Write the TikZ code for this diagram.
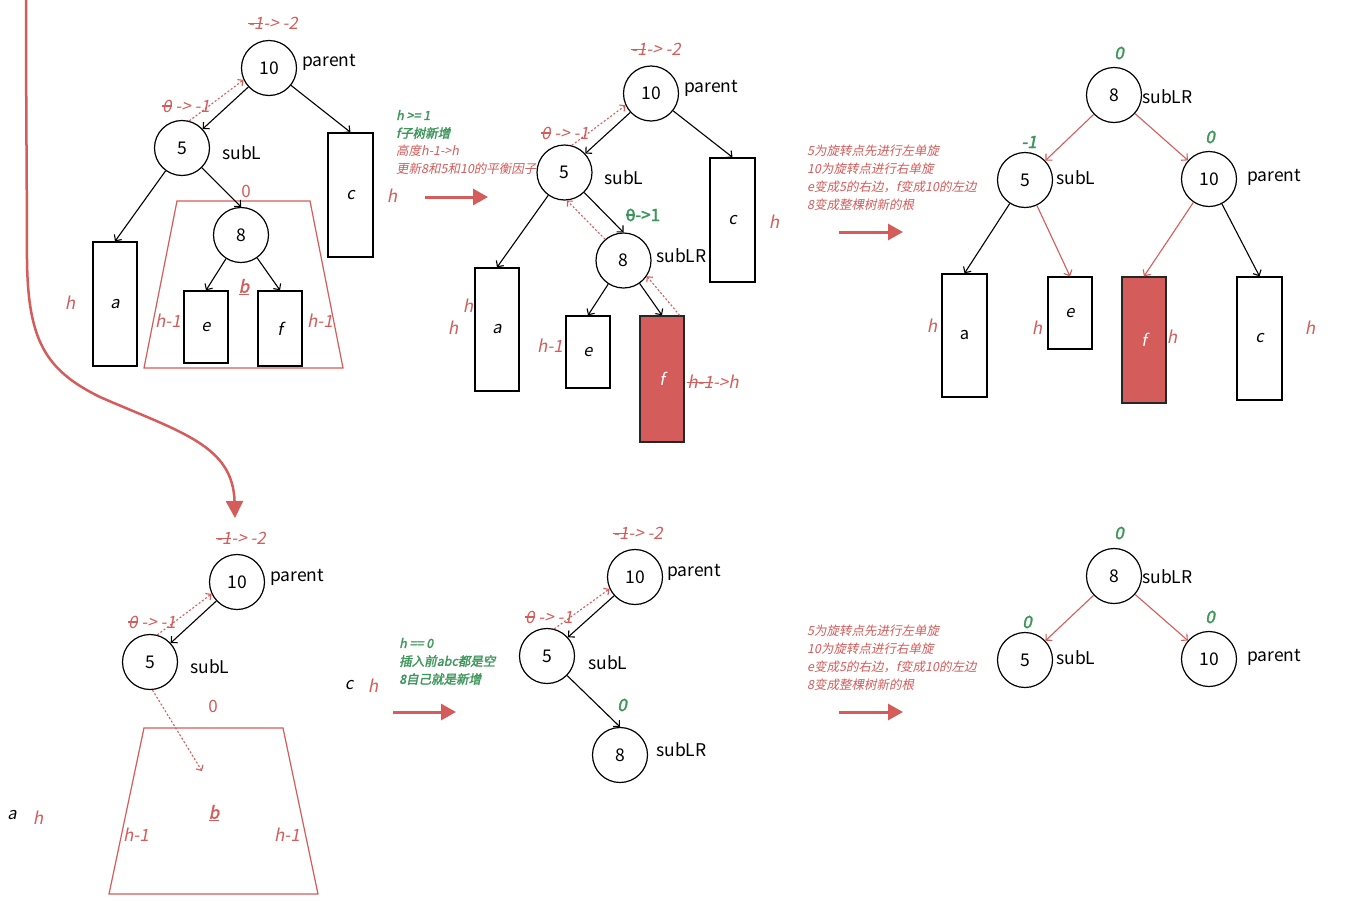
\documentclass[tikz,border=0pt]{standalone}
\usepackage{fontspec}
\usetikzlibrary{arrows.meta}
\newfontfamily\fN{Noto Sans CJK SC}
\newfontfamily\fI{Noto Sans CJK SC}[FakeSlant=0.2]
\newfontfamily\fBI{Noto Sans CJK SC}[FakeSlant=0.2,FakeBold=2]
\newfontfamily\fB{Noto Sans CJK SC}[FakeBold=2]
\definecolor{myred}{RGB}{212,92,90}
\definecolor{mygreen}{RGB}{60,150,90}
\newsavebox\stbox
\newcommand\stk[1]{\sbox\stbox{#1}\rlap{\rule[0.32em]{\wd\stbox}{0.07em}}\usebox\stbox}
\begin{document}
\begin{tikzpicture}[x=1pt,y=-1pt,
  circ/.style={circle,draw=black,line width=1.2pt,minimum size=55pt,inner sep=0pt,font=\fN\fontsize{17.5}{20}\selectfont},
  lbl/.style={font=\fN\fontsize{17.5}{20}\selectfont,inner sep=0pt,anchor=west},
  hl/.style={font=\fI\fontsize{17}{20}\selectfont,text=myred,inner sep=0pt},
  gl/.style={font=\fBI\fontsize{17}{20}\selectfont,text=mygreen,inner sep=0pt},
  sr/.style={font=\fI\fontsize{12.5}{14}\selectfont,text=myred,inner sep=0pt,anchor=west},
  sg/.style={font=\fBI\fontsize{12.5}{14}\selectfont,text=mygreen,inner sep=0pt,anchor=west},
  rbox/.style={draw=black,line width=1.4pt,inner sep=0pt,font=\fI\fontsize{16.5}{18}\selectfont},
  fbox/.style={rbox,fill=myred,draw=black!85,text=white},
  bl/.style={font=\fI\fontsize{16.5}{18}\selectfont,inner sep=0pt},
  arr/.style={-{Straight Barb[length=4.5pt,width=9pt]},line width=1.1pt,draw=black},
  rarr/.style={arr,draw=myred},
  darr/.style={-{Straight Barb[length=4pt,width=8pt]},draw=myred,line width=1.1pt,dash pattern=on 2pt off 2pt},
  bigarr/.style={-{Triangle[length=15pt,width=16pt]},line width=3pt,draw=myred},
  trap/.style={draw=myred,line width=1.2pt}
]
\useasboundingbox (0,0) rectangle (1346,900);
\fill[white] (0,0) rectangle (1346,900);

% ---------- panel 1 ----------
\node[circ] (A10) at (269,68) {10};
\node[lbl] (A10l) at (302,62) {parent};
\node[circ] (A5) at (182,148) {5};
\node[lbl] (A5l) at (222,153) {subL};
\node[circ] (A8) at (241,235) {8};
\node[rbox,minimum width=44pt,minimum height=124pt] (Aa) at (115,304) {a};
\node[rbox,minimum width=45pt,minimum height=124pt] (Ac) at (350.5,195) {c};
\node[rbox,minimum width=44pt,minimum height=72pt] (Ae) at (206,327) {e};
\node[rbox,minimum width=44pt,minimum height=75pt] (Af) at (280,328.5) {f};
\draw[trap] (177,201) -- (310,201) -- (343,368) -- (144,368) -- cycle;
\node[hl] (At1) at (273,23) {\stk{-1}-> -2};
\node[hl] (At2) at (186,106) {\stk{0} -> -1};
\node[hl,font=\fN\fontsize{17}{20}\selectfont] (At3) at (246,191) {0};
\node[hl,font=\fBI\fontsize{17}{20}\selectfont] (At4) at (244,287) {\underline{b}};
\node[hl] (At5) at (168,321) {h-1};
\node[hl] (At6) at (320,321) {h-1};
\node[hl] (At7) at (70,303) {h};
\node[hl] (At8) at (392,196) {h};
\draw[arr] (A10) -- (A5);
\draw[arr] (A10) -- (Ac.north);
\draw[arr] (A5) -- (Aa.north);
\draw[arr] (A5) -- (A8.north);
\draw[arr] (A8) -- (Ae.north);
\draw[arr] (A8) -- (Af.north);
\draw[darr] (A5.75) -- (A10.205);

% curve to bottom
\coordinate (cS) at (26,0);
\coordinate (cE) at (235,518);
\draw[line width=2.5pt,draw=myred,-{Triangle[length=17pt,width=17pt]}] (cS) .. controls (26,100) and (27,200) .. (27,260) .. controls (28,340) and (45,370) .. (100,397) .. controls (180,432) and (233,445) .. (cE);

% text block 1
\node[sg] (T1a) at (396,115) {h >= 1};
\node[sg] (T1b) at (396,133) {f子树新增};
\node[sr] (T1c) at (396,151) {高度h-1->h};
\node[sr] (T1d) at (396,169) {更新8和5和10的平衡因子};
\coordinate (R1s) at (425,197);
\coordinate (R1e) at (488,197);
\draw[bigarr] (R1s) -- (R1e);

% ---------- panel 2 ----------
\node[circ] (B10) at (651,93.5) {10};
\node[lbl] (B10l) at (684,88) {parent};
\node[circ] (B5) at (564.5,172.5) {5};
\node[lbl] (B5l) at (604,178) {subL};
\node[circ] (B8) at (623.5,260.5) {8};
\node[lbl] (B8l) at (656,256) {subLR};
\node[rbox,minimum width=45pt,minimum height=124pt] (Bc) at (732.5,220) {c};
\node[rbox,minimum width=44pt,minimum height=123pt] (Ba) at (497,329.5) {a};
\node[rbox,minimum width=44pt,minimum height=72pt] (Be) at (588,352) {e};
\node[fbox,minimum width=44pt,minimum height=126pt] (Bf) at (662,379) {f};
\node[hl] (Bt1) at (656,49) {\stk{-1}-> -2};
\node[hl] (Bt2) at (565,133) {\stk{0} -> -1};
\node[gl,font=\fB\fontsize{17}{20}\selectfont] (Bt3) at (643,215) {\stk{0}->1};
\node[hl] (Bt4) at (774,222) {h};
\node[hl] (Bt5) at (468,306) {h};
\node[hl] (Bt6) at (453,328) {h};
\node[hl] (Bt7) at (550,346) {h-1};
\node[hl] (Bt8) at (713,382) {\stk{h-1}->h};
\draw[arr] (B10) -- (B5);
\draw[arr] (B10) -- (Bc.north);
\draw[arr] (B5) -- (Ba.north);
\draw[arr] (B5) -- (B8.north);
\draw[arr] (B8) -- (Be.north);
\draw[arr] (B8) -- (Bf.north);
\draw[darr] (B5.75) -- (B10.205);
\draw[darr] (B8.131) -- (B5.275);
\draw[darr] ([xshift=-5pt]Bf.north east) -- (B8.326);

% text block 2
\node[sr] (T2a) at (807,151) {5为旋转点先进行左单旋};
\node[sr] (T2b) at (807,169) {10为旋转点进行右单旋};
\node[sr] (T2c) at (807,187) {e变成5的右边，f变成10的左边};
\node[sr] (T2d) at (807,205) {8变成整棵树新的根};
\coordinate (R2s) at (839,232);
\coordinate (R2e) at (903,232);
\draw[bigarr] (R2s) -- (R2e);

% ---------- panel 3 ----------
\node[circ] (C8) at (1114,95) {8};
\node[lbl] (C8l) at (1142,97) {subLR};
\node[circ] (C5) at (1025,180) {5};
\node[lbl] (C5l) at (1056,178) {subL};
\node[circ] (C10) at (1209,179) {10};
\node[lbl] (C10l) at (1247,177) {parent};
\node[gl] (Ct1) at (1119,53) {0};
\node[gl] (Ct2) at (1029,142) {-1};
\node[gl] (Ct3) at (1210,137) {0};
\node[rbox,minimum width=45pt,minimum height=123pt,font=\fN\fontsize{16.5}{18}\selectfont] (Ca) at (964.5,335.5) {a};
\node[rbox,minimum width=44pt,minimum height=72pt] (Ce) at (1070,313) {e};
\node[fbox,minimum width=44pt,minimum height=126pt] (Cf) at (1144,340) {f};
\node[rbox,minimum width=45pt,minimum height=123pt] (Cc) at (1259.5,338.5) {c};
\node[hl] (Ct4) at (932,326) {h};
\node[hl] (Ct5) at (1037,328) {h};
\node[hl] (Ct6) at (1172,337) {h};
\node[hl] (Ct7) at (1310,328) {h};
\draw[rarr] (C8) -- (C5);
\draw[rarr] (C8) -- (C10);
\draw[arr] (C5) -- (Ca.north);
\draw[rarr] (C5) -- (Ce.north);
\draw[rarr] (C10) -- (Cf.north);
\draw[arr] (C10) -- (Cc.north);

% ---------- bottom-left ----------
\node[circ] (D10) at (237,582) {10};
\node[lbl] (D10l) at (270,577) {parent};
\node[circ] (D5) at (150,662) {5};
\node[lbl] (D5l) at (190,667) {subL};
\node[hl] (Dt1) at (241,538) {\stk{-1}-> -2};
\node[hl] (Dt2) at (152,622) {\stk{0} -> -1};
\node[hl,font=\fN\fontsize{17}{20}\selectfont] (Dt3) at (213,706) {0};
\draw[trap] (144,728) -- (283,728) -- (318,894) -- (109,894) -- cycle;
\node[hl,font=\fBI\fontsize{17}{20}\selectfont] (Dt4) at (214,813) {\underline{b}};
\node[hl] (Dt5) at (136,835) {h-1};
\node[hl] (Dt6) at (287,835) {h-1};
\node[bl] (Dt7) at (12,815) {a};
\node[hl] (Dt8) at (38,818) {h};
\node[bl] (Dt9) at (349,685) {c};
\node[hl] (Dt10) at (373,686) {h};
\draw[arr] (D10) -- (D5);
\draw[darr] (D5.75) -- (D10.205);
\coordinate (Dend) at (202,771);
\draw[darr] (D5.275) -- (Dend);

% text block 3
\node[sg] (T3a) at (399,643) {h == 0};
\node[sg] (T3b) at (399,661) {插入前abc都是空};
\node[sg] (T3c) at (399,679) {8自己就是新增};
\coordinate (R3s) at (393,712);
\coordinate (R3e) at (456,712);
\draw[bigarr] (R3s) -- (R3e);

% ---------- bottom-middle ----------
\node[circ] (E10) at (635,577) {10};
\node[lbl] (E10l) at (667,572) {parent};
\node[circ] (E5) at (547,656) {5};
\node[lbl] (E5l) at (588,663) {subL};
\node[circ] (E8) at (620,755) {8};
\node[lbl] (E8l) at (656,750) {subLR};
\node[hl] (Et1) at (638,533) {\stk{-1}-> -2};
\node[hl] (Et2) at (549,617) {\stk{0} -> -1};
\node[gl] (Et3) at (622,705) {0};
\draw[arr] (E10) -- (E5);
\draw[arr] (E5) -- (E8.north);
\draw[darr] (E5.75) -- (E10.205);

% text block 4
\node[sr] (T4a) at (807,631) {5为旋转点先进行左单旋};
\node[sr] (T4b) at (807,649) {10为旋转点进行右单旋};
\node[sr] (T4c) at (807,667) {e变成5的右边，f变成10的左边};
\node[sr] (T4d) at (807,685) {8变成整棵树新的根};
\coordinate (R4s) at (839,712);
\coordinate (R4e) at (903,712);
\draw[bigarr] (R4s) -- (R4e);

% ---------- bottom-right ----------
\node[circ] (F8) at (1114,576) {8};
\node[lbl] (F8l) at (1142,577) {subLR};
\node[circ] (F5) at (1025,660) {5};
\node[lbl] (F5l) at (1056,658) {subL};
\node[circ] (F10) at (1209,659) {10};
\node[lbl] (F10l) at (1247,657) {parent};
\node[gl] (Ft1) at (1119,533) {0};
\node[gl] (Ft2) at (1027,622) {0};
\node[gl] (Ft3) at (1210,617) {0};
\draw[rarr] (F8) -- (F5);
\draw[rarr] (F8) -- (F10);
\end{tikzpicture}
\end{document}
